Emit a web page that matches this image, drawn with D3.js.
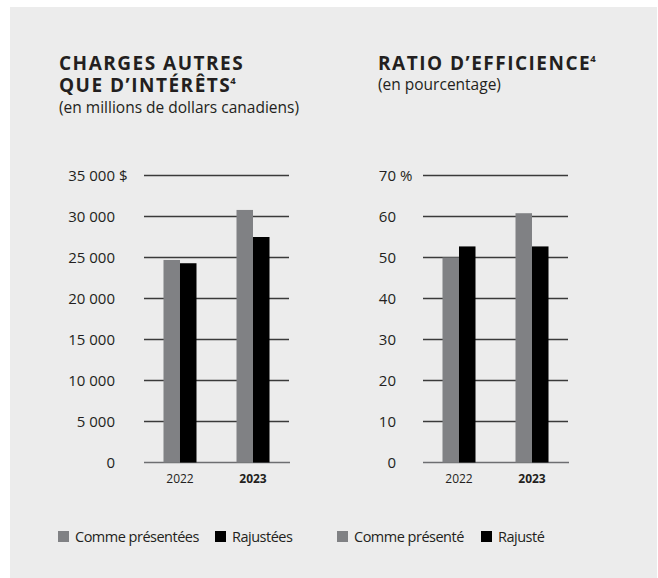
<!DOCTYPE html>
<html>
<head>
<meta charset="utf-8">
<script src="https://cdn.jsdelivr.net/npm/d3@7"></script>
<style>
  body { margin: 0; background: #fff; }
  svg text { font-family: "Open Sans", "Noto Sans", sans-serif; fill: #231f20; }
</style>
</head>
<body>
<div id="vis"></div>
<script>
const frame_width = 658;
const frame_height = 578;

// data
const years = ["2022", "2023"];
const series = ["Comme présenté", "Rajusté"];
const charges_values = [[24700, 24300], [30800, 27500]];   // [year][serie]
const ratio_values = [[50.0, 52.7], [60.8, 52.7]];
const charges_ticks = [0, 5000, 10000, 15000, 20000, 25000, 30000, 35000];
const ratio_ticks = [0, 10, 20, 30, 40, 50, 60, 70];
const charges_legend = ["Comme présentées", "Rajustées"];
const ratio_legend = ["Comme présenté", "Rajusté"];
const colors = ["#808184", "#000000"];

const svg = d3.select("#vis")
  .append("svg")
    .attr("width", frame_width)
    .attr("height", frame_height);

svg.append("rect")
  .attr("x", 10).attr("y", 7)
  .attr("width", 647).attr("height", 571)
  .attr("fill", "#ececec");

const fmt = (v) => d3.format(",")(v).replace(/,/g, " ");

function drawChart(opt) {
  const g = svg.append("g");

  // titles
  opt.title.forEach((line, i) => {
    const t = g.append("text")
      .attr("x", opt.left_text)
      .attr("y", 69.5 + i * 22.5)
      .attr("font-size", "19px")
      .attr("font-weight", 700)
      .attr("letter-spacing", "1.5px")
      .text(line);
    if (i == opt.title.length - 1) {
      t.append("tspan")
        .attr("font-size", "9.5px")
        .attr("letter-spacing", "0px")
        .attr("dy", "-8")
        .attr("dx", "-1")
        .text("4");
    }
  });
  g.append("text")
    .attr("x", opt.left_text)
    .attr("y", 69.5 + (opt.title.length - 1) * 22.5 + 20.5)
    .attr("font-size", opt.sub_size)
    .text(opt.subtitle);

  const y_scale = d3.scaleLinear()
    .domain([0, opt.ticks[opt.ticks.length - 1]])
    .range([462.5, 175.5]);

  const x_scale = d3.scaleBand()
    .domain(years)
    .range([opt.x0, opt.x1])
    .paddingInner(0.548)
    .paddingOuter(0.267);

  const x_inner = d3.scaleBand()
    .domain(series)
    .range([0, x_scale.bandwidth()]);

  // gridlines
  g.selectAll(".grid")
    .data(opt.ticks)
    .enter()
    .append("line")
      .attr("x1", opt.x0)
      .attr("x2", (d) => d == 0 ? opt.x1 + 1 : opt.x1)
      .attr("y1", (d) => y_scale(d))
      .attr("y2", (d) => y_scale(d))
      .attr("stroke", (d) => d == 0 ? "#6d6e71" : "#3a3a3a")
      .attr("stroke-width", 1.3);

  // tick labels
  g.selectAll(".tick-label")
    .data(opt.ticks)
    .enter()
    .append("text")
      .attr("x", opt.label_x)
      .attr("y", (d) => y_scale(d) + 5.5)
      .attr("text-anchor", "end")
      .attr("font-size", "15px")
      .text((d) => opt.fmt(d));
  g.append("text")
    .attr("x", opt.label_x + 4)
    .attr("y", y_scale(opt.ticks[opt.ticks.length - 1]) + 5.5)
    .attr("font-size", "15px")
    .text(opt.unit);

  // bars
  years.forEach((yr, i) => {
    g.selectAll(".bar-" + yr)
      .data(opt.values[i])
      .enter()
      .append("rect")
        .attr("x", (d, j) => x_scale(yr) + x_inner(series[j]))
        .attr("y", (d) => y_scale(d))
        .attr("width", x_inner.bandwidth())
        .attr("height", (d) => y_scale(0) - y_scale(d))
        .attr("fill", (d, j) => colors[j]);
  });

  // x labels
  g.selectAll(".x-label")
    .data(years)
    .enter()
    .append("text")
      .attr("x", (d) => x_scale(d) + x_scale.bandwidth() / 2)
      .attr("y", 483)
      .attr("text-anchor", "middle")
      .attr("font-size", "12px")
      .attr("font-weight", (d, i) => i == 1 ? 700 : 400)
      .text((d) => d);

  // legend
  opt.legend.forEach((name, j) => {
    const lx = opt.legend_x[j];
    g.append("rect")
      .attr("x", lx).attr("y", 531)
      .attr("width", 11).attr("height", 11)
      .attr("fill", colors[j]);
    g.append("text")
      .attr("x", lx + 17)
      .attr("y", 542)
      .attr("font-size", "14.5px")
      .attr("letter-spacing", "-0.5px")
      .text(name);
  });
}

drawChart({
  title: ["CHARGES AUTRES", "QUE D\u2019INTÉRÊTS"],
  subtitle: "(en millions de dollars canadiens)",
  sub_size: "15.5px",
  left_text: 59,
  x0: 144, x1: 289,
  label_x: 115,
  unit: "$",
  fmt: fmt,
  ticks: charges_ticks,
  values: charges_values,
  legend: charges_legend,
  legend_x: [58, 215]
});

drawChart({
  title: ["RATIO D\u2019EFFICIENCE"],
  subtitle: "(en pourcentage)",
  sub_size: "15.5px",
  left_text: 378,
  x0: 423, x1: 568,
  label_x: 396,
  unit: "%",
  fmt: (d) => d,
  ticks: ratio_ticks,
  values: ratio_values,
  legend: ratio_legend,
  legend_x: [337, 481]
});
</script>
</body>
</html>
